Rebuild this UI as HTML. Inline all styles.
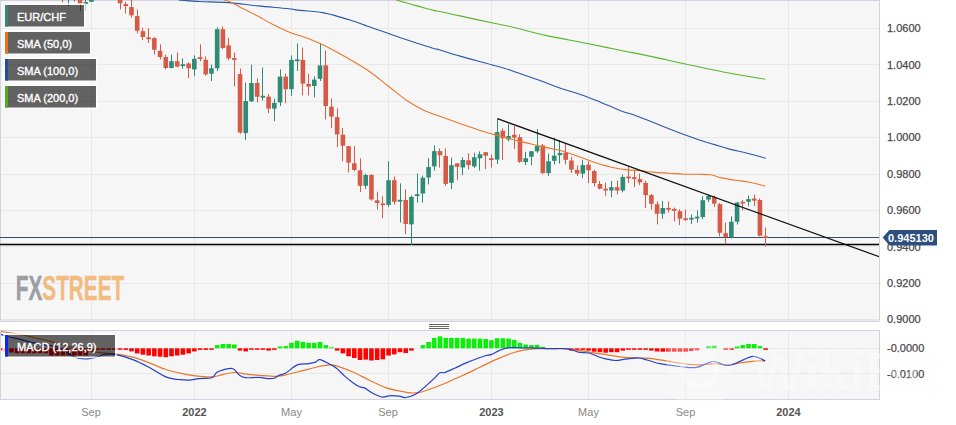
<!DOCTYPE html>
<html><head><meta charset="utf-8"><title>EUR/CHF chart</title>
<style>html,body{margin:0;padding:0;background:#fff;width:956px;height:425px;overflow:hidden}</style>
</head><body>
<svg width="956" height="425" viewBox="0 0 956 425" style="display:block">
<rect x="0" y="0" width="879.5" height="320" fill="#f6f6f7"/>
<rect x="0" y="330" width="879.5" height="70" fill="#f6f6f7"/>
<line x1="0" y1="28.5" x2="879.5" y2="28.5" stroke="#e8e8e9" stroke-width="1"/>
<line x1="0" y1="64.5" x2="879.5" y2="64.5" stroke="#e8e8e9" stroke-width="1"/>
<line x1="0" y1="101.5" x2="879.5" y2="101.5" stroke="#e8e8e9" stroke-width="1"/>
<line x1="0" y1="137.5" x2="879.5" y2="137.5" stroke="#e8e8e9" stroke-width="1"/>
<line x1="0" y1="174.5" x2="879.5" y2="174.5" stroke="#e8e8e9" stroke-width="1"/>
<line x1="0" y1="210.5" x2="879.5" y2="210.5" stroke="#e8e8e9" stroke-width="1"/>
<line x1="0" y1="246.5" x2="879.5" y2="246.5" stroke="#e8e8e9" stroke-width="1"/>
<line x1="0" y1="283.5" x2="879.5" y2="283.5" stroke="#e8e8e9" stroke-width="1"/>
<line x1="91.5" y1="0" x2="91.5" y2="320" stroke="#e8e8e9" stroke-width="1"/>
<line x1="91.5" y1="330" x2="91.5" y2="399" stroke="#e8e8e9" stroke-width="1"/>
<line x1="194.5" y1="0" x2="194.5" y2="320" stroke="#e8e8e9" stroke-width="1"/>
<line x1="194.5" y1="330" x2="194.5" y2="399" stroke="#e8e8e9" stroke-width="1"/>
<line x1="291.5" y1="0" x2="291.5" y2="320" stroke="#e8e8e9" stroke-width="1"/>
<line x1="291.5" y1="330" x2="291.5" y2="399" stroke="#e8e8e9" stroke-width="1"/>
<line x1="388.5" y1="0" x2="388.5" y2="320" stroke="#e8e8e9" stroke-width="1"/>
<line x1="388.5" y1="330" x2="388.5" y2="399" stroke="#e8e8e9" stroke-width="1"/>
<line x1="491.5" y1="0" x2="491.5" y2="320" stroke="#e8e8e9" stroke-width="1"/>
<line x1="491.5" y1="330" x2="491.5" y2="399" stroke="#e8e8e9" stroke-width="1"/>
<line x1="588.5" y1="0" x2="588.5" y2="320" stroke="#e8e8e9" stroke-width="1"/>
<line x1="588.5" y1="330" x2="588.5" y2="399" stroke="#e8e8e9" stroke-width="1"/>
<line x1="685.5" y1="0" x2="685.5" y2="320" stroke="#e8e8e9" stroke-width="1"/>
<line x1="685.5" y1="330" x2="685.5" y2="399" stroke="#e8e8e9" stroke-width="1"/>
<line x1="788.5" y1="0" x2="788.5" y2="320" stroke="#e8e8e9" stroke-width="1"/>
<line x1="788.5" y1="330" x2="788.5" y2="399" stroke="#e8e8e9" stroke-width="1"/>
<line x1="0" y1="348.5" x2="879.5" y2="348.5" stroke="#e8e8e9" stroke-width="1"/>
<line x1="0" y1="373.5" x2="879.5" y2="373.5" stroke="#e8e8e9" stroke-width="1"/>
<rect x="0.5" y="0.5" width="879.0" height="319.5" fill="none" stroke="#d2d2de" stroke-width="1"/>
<defs><clipPath id="cp"><rect x="0" y="0" width="879" height="320"/></clipPath><clipPath id="cm"><rect x="0" y="330" width="879" height="69"/></clipPath></defs>
<g clip-path="url(#cp)">
<line x1="0" y1="237.5" x2="879.5" y2="237.5" stroke="#34496a" stroke-width="1.1"/>
<line x1="0" y1="244.5" x2="879.5" y2="244.5" stroke="#000" stroke-width="1.3"/>
<rect x="62" y="-8.0" width="1" height="10.4" fill="#d65a45"/>
<rect x="60.64" y="-5.0" width="4.6" height="4.0" fill="#d65a45"/>
<rect x="68" y="-14.0" width="1" height="20.0" fill="#2f8a76"/>
<rect x="66.35" y="-12.0" width="4.6" height="8.0" fill="#2f8a76"/>
<rect x="74" y="-12.0" width="1" height="13.6" fill="#2f8a76"/>
<rect x="72.06" y="-10.0" width="4.6" height="6.0" fill="#2f8a76"/>
<rect x="80" y="-8.0" width="1" height="18.7" fill="#d65a45"/>
<rect x="77.77" y="-5.0" width="4.6" height="8.7" fill="#d65a45"/>
<rect x="85" y="-3.0" width="1" height="13.5" fill="#2f8a76"/>
<rect x="83.49" y="2.1" width="4.6" height="1.8" fill="#2f8a76"/>
<rect x="91" y="-6.0" width="1" height="8.2" fill="#2f8a76"/>
<rect x="89.20" y="-3.0" width="4.6" height="4.8" fill="#2f8a76"/>
<rect x="120" y="-5.0" width="1" height="14.4" fill="#d65a45"/>
<rect x="117.77" y="-3.0" width="4.6" height="6.3" fill="#d65a45"/>
<rect x="125" y="1.8" width="1" height="11.7" fill="#d65a45"/>
<rect x="123.48" y="4.1" width="4.6" height="2.0" fill="#d65a45"/>
<rect x="131" y="-1.0" width="1" height="18.6" fill="#d65a45"/>
<rect x="129.19" y="7.1" width="4.6" height="8.2" fill="#d65a45"/>
<rect x="137" y="9.4" width="1" height="24.1" fill="#d65a45"/>
<rect x="134.90" y="16.1" width="4.6" height="14.7" fill="#d65a45"/>
<rect x="142" y="27.6" width="1" height="12.4" fill="#d65a45"/>
<rect x="140.62" y="31.2" width="4.6" height="5.8" fill="#d65a45"/>
<rect x="148" y="28.2" width="1" height="14.8" fill="#d65a45"/>
<rect x="146.33" y="37.4" width="4.6" height="1.8" fill="#d65a45"/>
<rect x="154" y="37.2" width="1" height="17.4" fill="#d65a45"/>
<rect x="152.04" y="38.1" width="4.6" height="11.6" fill="#d65a45"/>
<rect x="160" y="44.3" width="1" height="15.2" fill="#d65a45"/>
<rect x="157.76" y="50.8" width="4.6" height="6.2" fill="#d65a45"/>
<rect x="165" y="54.6" width="1" height="14.8" fill="#d65a45"/>
<rect x="163.47" y="57.0" width="4.6" height="11.0" fill="#d65a45"/>
<rect x="171" y="54.6" width="1" height="13.7" fill="#2f8a76"/>
<rect x="169.18" y="61.2" width="4.6" height="6.8" fill="#2f8a76"/>
<rect x="177" y="52.5" width="1" height="14.8" fill="#d65a45"/>
<rect x="174.89" y="61.2" width="4.6" height="5.4" fill="#d65a45"/>
<rect x="182" y="58.4" width="1" height="10.3" fill="#2f8a76"/>
<rect x="180.61" y="64.3" width="4.6" height="1.8" fill="#2f8a76"/>
<rect x="188" y="62.4" width="1" height="15.8" fill="#d65a45"/>
<rect x="186.32" y="63.5" width="4.6" height="4.8" fill="#d65a45"/>
<rect x="194" y="55.3" width="1" height="20.9" fill="#2f8a76"/>
<rect x="192.03" y="58.8" width="4.6" height="10.6" fill="#2f8a76"/>
<rect x="200" y="44.3" width="1" height="16.9" fill="#d65a45"/>
<rect x="197.75" y="57.2" width="4.6" height="1.8" fill="#d65a45"/>
<rect x="205" y="56.4" width="1" height="19.4" fill="#d65a45"/>
<rect x="203.46" y="59.8" width="4.6" height="14.6" fill="#d65a45"/>
<rect x="211" y="64.5" width="1" height="16.5" fill="#2f8a76"/>
<rect x="209.17" y="68.3" width="4.6" height="5.4" fill="#2f8a76"/>
<rect x="217" y="27.3" width="1" height="43.8" fill="#2f8a76"/>
<rect x="214.89" y="29.2" width="4.6" height="39.1" fill="#2f8a76"/>
<rect x="222" y="26.4" width="1" height="22.6" fill="#d65a45"/>
<rect x="220.60" y="29.2" width="4.6" height="18.8" fill="#d65a45"/>
<rect x="228" y="37.7" width="1" height="22.6" fill="#d65a45"/>
<rect x="226.31" y="45.4" width="4.6" height="13.0" fill="#d65a45"/>
<rect x="234" y="52.5" width="1" height="33.9" fill="#d65a45"/>
<rect x="232.02" y="58.1" width="4.6" height="1.8" fill="#d65a45"/>
<rect x="240" y="68.5" width="1" height="65.3" fill="#d65a45"/>
<rect x="237.74" y="74.1" width="4.6" height="58.4" fill="#d65a45"/>
<rect x="245" y="82.6" width="1" height="57.4" fill="#2f8a76"/>
<rect x="243.45" y="101.0" width="4.6" height="32.1" fill="#2f8a76"/>
<rect x="251" y="64.7" width="1" height="37.1" fill="#2f8a76"/>
<rect x="249.16" y="83.0" width="4.6" height="18.4" fill="#2f8a76"/>
<rect x="257" y="78.5" width="1" height="23.9" fill="#d65a45"/>
<rect x="254.88" y="83.0" width="4.6" height="13.7" fill="#d65a45"/>
<rect x="262" y="67.5" width="1" height="33.0" fill="#2f8a76"/>
<rect x="260.59" y="95.8" width="4.6" height="1.8" fill="#2f8a76"/>
<rect x="268" y="93.9" width="1" height="19.2" fill="#d65a45"/>
<rect x="266.30" y="96.7" width="4.6" height="11.9" fill="#d65a45"/>
<rect x="274" y="98.6" width="1" height="22.6" fill="#2f8a76"/>
<rect x="272.02" y="102.9" width="4.6" height="5.7" fill="#2f8a76"/>
<rect x="280" y="69.4" width="1" height="36.7" fill="#2f8a76"/>
<rect x="277.73" y="76.6" width="4.6" height="25.8" fill="#2f8a76"/>
<rect x="285" y="73.6" width="1" height="29.7" fill="#d65a45"/>
<rect x="283.44" y="76.6" width="4.6" height="12.6" fill="#d65a45"/>
<rect x="291" y="55.4" width="1" height="40.4" fill="#2f8a76"/>
<rect x="289.16" y="59.9" width="4.6" height="29.3" fill="#2f8a76"/>
<rect x="297" y="43.4" width="1" height="27.5" fill="#2f8a76"/>
<rect x="294.87" y="59.4" width="4.6" height="1.8" fill="#2f8a76"/>
<rect x="302" y="47.6" width="1" height="47.8" fill="#d65a45"/>
<rect x="300.58" y="59.9" width="4.6" height="23.7" fill="#d65a45"/>
<rect x="308" y="73.6" width="1" height="21.8" fill="#d65a45"/>
<rect x="306.29" y="84.0" width="4.6" height="2.5" fill="#d65a45"/>
<rect x="314" y="76.4" width="1" height="20.9" fill="#2f8a76"/>
<rect x="312.01" y="79.6" width="4.6" height="6.4" fill="#2f8a76"/>
<rect x="320" y="43.8" width="1" height="37.2" fill="#2f8a76"/>
<rect x="317.72" y="65.4" width="4.6" height="13.4" fill="#2f8a76"/>
<rect x="325" y="50.5" width="1" height="69.0" fill="#d65a45"/>
<rect x="323.43" y="65.3" width="4.6" height="40.7" fill="#d65a45"/>
<rect x="331" y="98.5" width="1" height="29.6" fill="#d65a45"/>
<rect x="329.15" y="106.7" width="4.6" height="9.9" fill="#d65a45"/>
<rect x="337" y="108.3" width="1" height="38.7" fill="#d65a45"/>
<rect x="334.86" y="117.1" width="4.6" height="17.3" fill="#d65a45"/>
<rect x="342" y="128.1" width="1" height="33.1" fill="#d65a45"/>
<rect x="340.57" y="134.7" width="4.6" height="11.0" fill="#d65a45"/>
<rect x="348" y="145.9" width="1" height="26.5" fill="#d65a45"/>
<rect x="346.28" y="146.2" width="4.6" height="16.4" fill="#d65a45"/>
<rect x="354" y="146.2" width="1" height="25.1" fill="#d65a45"/>
<rect x="352.00" y="163.3" width="4.6" height="6.6" fill="#d65a45"/>
<rect x="360" y="158.3" width="1" height="33.7" fill="#d65a45"/>
<rect x="357.71" y="170.3" width="4.6" height="15.5" fill="#d65a45"/>
<rect x="365" y="173.6" width="1" height="15.4" fill="#2f8a76"/>
<rect x="363.42" y="175.0" width="4.6" height="10.8" fill="#2f8a76"/>
<rect x="371" y="174.0" width="1" height="26.5" fill="#d65a45"/>
<rect x="369.14" y="175.0" width="4.6" height="24.5" fill="#d65a45"/>
<rect x="377" y="191.7" width="1" height="17.8" fill="#d65a45"/>
<rect x="374.85" y="200.3" width="4.6" height="2.7" fill="#d65a45"/>
<rect x="382" y="196.3" width="1" height="22.0" fill="#d65a45"/>
<rect x="380.56" y="203.4" width="4.6" height="1.8" fill="#d65a45"/>
<rect x="388" y="161.2" width="1" height="46.0" fill="#2f8a76"/>
<rect x="386.28" y="180.2" width="4.6" height="24.7" fill="#2f8a76"/>
<rect x="394" y="176.4" width="1" height="28.2" fill="#d65a45"/>
<rect x="391.99" y="180.2" width="4.6" height="21.6" fill="#d65a45"/>
<rect x="400" y="183.4" width="1" height="39.1" fill="#2f8a76"/>
<rect x="397.70" y="199.8" width="4.6" height="1.8" fill="#2f8a76"/>
<rect x="405" y="189.4" width="1" height="44.8" fill="#d65a45"/>
<rect x="403.42" y="200.0" width="4.6" height="24.0" fill="#d65a45"/>
<rect x="411" y="195.4" width="1" height="49.5" fill="#2f8a76"/>
<rect x="409.13" y="196.9" width="4.6" height="27.5" fill="#2f8a76"/>
<rect x="417" y="173.6" width="1" height="29.0" fill="#2f8a76"/>
<rect x="414.84" y="194.2" width="4.6" height="1.8" fill="#2f8a76"/>
<rect x="422" y="175.5" width="1" height="27.1" fill="#2f8a76"/>
<rect x="420.55" y="177.8" width="4.6" height="15.7" fill="#2f8a76"/>
<rect x="428" y="158.3" width="1" height="26.1" fill="#2f8a76"/>
<rect x="426.27" y="167.1" width="4.6" height="10.4" fill="#2f8a76"/>
<rect x="434" y="145.3" width="1" height="25.3" fill="#2f8a76"/>
<rect x="431.98" y="151.1" width="4.6" height="15.3" fill="#2f8a76"/>
<rect x="439" y="148.4" width="1" height="19.1" fill="#d65a45"/>
<rect x="437.69" y="151.1" width="4.6" height="4.2" fill="#d65a45"/>
<rect x="445" y="148.4" width="1" height="37.5" fill="#d65a45"/>
<rect x="443.41" y="156.0" width="4.6" height="27.9" fill="#d65a45"/>
<rect x="451" y="157.6" width="1" height="31.4" fill="#2f8a76"/>
<rect x="449.12" y="165.2" width="4.6" height="17.6" fill="#2f8a76"/>
<rect x="457" y="163.0" width="1" height="17.2" fill="#d65a45"/>
<rect x="454.83" y="163.4" width="4.6" height="3.4" fill="#d65a45"/>
<rect x="462" y="157.3" width="1" height="17.9" fill="#2f8a76"/>
<rect x="460.55" y="159.9" width="4.6" height="7.6" fill="#2f8a76"/>
<rect x="468" y="153.3" width="1" height="16.2" fill="#d65a45"/>
<rect x="466.26" y="160.3" width="4.6" height="4.6" fill="#d65a45"/>
<rect x="474" y="152.7" width="1" height="15.3" fill="#2f8a76"/>
<rect x="471.97" y="157.3" width="4.6" height="9.1" fill="#2f8a76"/>
<rect x="479" y="151.4" width="1" height="19.2" fill="#2f8a76"/>
<rect x="477.68" y="154.2" width="4.6" height="4.1" fill="#2f8a76"/>
<rect x="485" y="152.0" width="1" height="17.0" fill="#d65a45"/>
<rect x="483.40" y="152.2" width="4.6" height="3.5" fill="#d65a45"/>
<rect x="491" y="154.5" width="1" height="13.0" fill="#d65a45"/>
<rect x="489.11" y="158.2" width="4.6" height="1.8" fill="#d65a45"/>
<rect x="497" y="118.8" width="1" height="45.2" fill="#2f8a76"/>
<rect x="494.82" y="132.0" width="4.6" height="27.6" fill="#2f8a76"/>
<rect x="502" y="128.4" width="1" height="31.6" fill="#d65a45"/>
<rect x="500.54" y="130.8" width="4.6" height="7.5" fill="#d65a45"/>
<rect x="508" y="124.1" width="1" height="17.3" fill="#2f8a76"/>
<rect x="506.25" y="136.0" width="4.6" height="3.4" fill="#2f8a76"/>
<rect x="514" y="126.1" width="1" height="22.9" fill="#d65a45"/>
<rect x="511.96" y="134.8" width="4.6" height="2.8" fill="#d65a45"/>
<rect x="519" y="134.5" width="1" height="28.3" fill="#d65a45"/>
<rect x="517.68" y="137.3" width="4.6" height="24.5" fill="#d65a45"/>
<rect x="525" y="151.7" width="1" height="13.4" fill="#2f8a76"/>
<rect x="523.39" y="158.2" width="4.6" height="3.9" fill="#2f8a76"/>
<rect x="531" y="151.0" width="1" height="14.1" fill="#2f8a76"/>
<rect x="529.10" y="151.3" width="4.6" height="5.4" fill="#2f8a76"/>
<rect x="537" y="129.1" width="1" height="23.8" fill="#2f8a76"/>
<rect x="534.81" y="146.0" width="4.6" height="5.3" fill="#2f8a76"/>
<rect x="542" y="144.0" width="1" height="30.3" fill="#d65a45"/>
<rect x="540.53" y="145.5" width="4.6" height="27.6" fill="#d65a45"/>
<rect x="548" y="153.6" width="1" height="22.4" fill="#2f8a76"/>
<rect x="546.24" y="161.3" width="4.6" height="11.8" fill="#2f8a76"/>
<rect x="554" y="137.6" width="1" height="26.8" fill="#2f8a76"/>
<rect x="551.95" y="155.6" width="4.6" height="5.2" fill="#2f8a76"/>
<rect x="559" y="139.9" width="1" height="23.7" fill="#2f8a76"/>
<rect x="557.67" y="152.9" width="4.6" height="2.3" fill="#2f8a76"/>
<rect x="565" y="144.0" width="1" height="20.4" fill="#d65a45"/>
<rect x="563.38" y="152.6" width="4.6" height="7.2" fill="#d65a45"/>
<rect x="571" y="156.9" width="1" height="16.2" fill="#d65a45"/>
<rect x="569.09" y="160.5" width="4.6" height="9.1" fill="#d65a45"/>
<rect x="577" y="165.4" width="1" height="10.6" fill="#d65a45"/>
<rect x="574.81" y="169.9" width="4.6" height="3.7" fill="#d65a45"/>
<rect x="582" y="159.7" width="1" height="18.4" fill="#2f8a76"/>
<rect x="580.52" y="165.1" width="4.6" height="8.5" fill="#2f8a76"/>
<rect x="588" y="161.2" width="1" height="21.8" fill="#d65a45"/>
<rect x="586.23" y="164.7" width="4.6" height="5.6" fill="#d65a45"/>
<rect x="594" y="169.6" width="1" height="16.9" fill="#d65a45"/>
<rect x="591.94" y="171.0" width="4.6" height="12.0" fill="#d65a45"/>
<rect x="599" y="180.9" width="1" height="8.5" fill="#d65a45"/>
<rect x="597.66" y="184.0" width="4.6" height="4.7" fill="#d65a45"/>
<rect x="605" y="182.6" width="1" height="13.1" fill="#d65a45"/>
<rect x="603.37" y="188.7" width="4.6" height="1.8" fill="#d65a45"/>
<rect x="611" y="180.9" width="1" height="16.2" fill="#2f8a76"/>
<rect x="609.08" y="187.2" width="4.6" height="3.3" fill="#2f8a76"/>
<rect x="617" y="180.6" width="1" height="13.7" fill="#d65a45"/>
<rect x="614.80" y="187.2" width="4.6" height="3.3" fill="#d65a45"/>
<rect x="622" y="174.6" width="1" height="17.6" fill="#2f8a76"/>
<rect x="620.51" y="177.0" width="4.6" height="13.5" fill="#2f8a76"/>
<rect x="628" y="166.8" width="1" height="16.2" fill="#d65a45"/>
<rect x="626.22" y="176.5" width="4.6" height="1.8" fill="#d65a45"/>
<rect x="634" y="169.6" width="1" height="17.6" fill="#d65a45"/>
<rect x="631.94" y="177.2" width="4.6" height="1.8" fill="#d65a45"/>
<rect x="639" y="173.6" width="1" height="11.5" fill="#d65a45"/>
<rect x="637.65" y="179.2" width="4.6" height="3.1" fill="#d65a45"/>
<rect x="645" y="180.8" width="1" height="27.2" fill="#d65a45"/>
<rect x="643.36" y="182.9" width="4.6" height="12.2" fill="#d65a45"/>
<rect x="651" y="194.0" width="1" height="15.6" fill="#d65a45"/>
<rect x="649.07" y="195.1" width="4.6" height="8.7" fill="#d65a45"/>
<rect x="657" y="201.4" width="1" height="23.0" fill="#d65a45"/>
<rect x="654.79" y="204.3" width="4.6" height="9.4" fill="#d65a45"/>
<rect x="662" y="201.0" width="1" height="17.7" fill="#2f8a76"/>
<rect x="660.50" y="208.0" width="4.6" height="5.7" fill="#2f8a76"/>
<rect x="668" y="201.4" width="1" height="11.2" fill="#d65a45"/>
<rect x="666.21" y="207.9" width="4.6" height="1.8" fill="#d65a45"/>
<rect x="674" y="207.6" width="1" height="13.9" fill="#d65a45"/>
<rect x="671.93" y="209.0" width="4.6" height="1.8" fill="#d65a45"/>
<rect x="679" y="209.3" width="1" height="15.9" fill="#d65a45"/>
<rect x="677.64" y="211.2" width="4.6" height="7.5" fill="#d65a45"/>
<rect x="685" y="209.6" width="1" height="11.2" fill="#d65a45"/>
<rect x="683.35" y="218.3" width="4.6" height="1.8" fill="#d65a45"/>
<rect x="691" y="214.5" width="1" height="9.6" fill="#2f8a76"/>
<rect x="689.07" y="217.8" width="4.6" height="1.8" fill="#2f8a76"/>
<rect x="697" y="210.4" width="1" height="12.4" fill="#2f8a76"/>
<rect x="694.78" y="216.7" width="4.6" height="1.8" fill="#2f8a76"/>
<rect x="702" y="196.3" width="1" height="23.0" fill="#2f8a76"/>
<rect x="700.49" y="200.2" width="4.6" height="16.8" fill="#2f8a76"/>
<rect x="708" y="194.8" width="1" height="7.2" fill="#2f8a76"/>
<rect x="706.20" y="195.9" width="4.6" height="3.7" fill="#2f8a76"/>
<rect x="714" y="195.6" width="1" height="11.5" fill="#d65a45"/>
<rect x="711.92" y="197.1" width="4.6" height="6.6" fill="#d65a45"/>
<rect x="719" y="203.0" width="1" height="33.3" fill="#d65a45"/>
<rect x="717.63" y="204.2" width="4.6" height="28.6" fill="#d65a45"/>
<rect x="725" y="222.5" width="1" height="21.5" fill="#d65a45"/>
<rect x="723.34" y="233.2" width="4.6" height="3.9" fill="#d65a45"/>
<rect x="731" y="216.4" width="1" height="21.9" fill="#2f8a76"/>
<rect x="729.06" y="221.8" width="4.6" height="15.6" fill="#2f8a76"/>
<rect x="737" y="201.8" width="1" height="22.7" fill="#2f8a76"/>
<rect x="734.77" y="202.6" width="4.6" height="19.2" fill="#2f8a76"/>
<rect x="742" y="200.0" width="1" height="10.3" fill="#d65a45"/>
<rect x="740.48" y="201.7" width="4.6" height="1.8" fill="#d65a45"/>
<rect x="748" y="195.4" width="1" height="11.0" fill="#2f8a76"/>
<rect x="746.20" y="199.1" width="4.6" height="2.7" fill="#2f8a76"/>
<rect x="754" y="194.5" width="1" height="11.6" fill="#d65a45"/>
<rect x="751.91" y="198.5" width="4.6" height="2.1" fill="#d65a45"/>
<rect x="759" y="198.5" width="1" height="37.8" fill="#d65a45"/>
<rect x="757.62" y="200.0" width="4.6" height="35.8" fill="#d65a45"/>
<rect x="765" y="227.6" width="1" height="18.7" fill="#d65a45"/>
<rect x="763.33" y="236.2" width="4.6" height="1.8" fill="#d65a45"/>
<path d="M396.2,0.0 C399.7,1.0 410.9,4.2 417.2,5.9 C423.5,7.6 430.1,9.5 433.9,10.4 C437.7,11.3 435.6,10.6 440.0,11.5 C444.4,12.4 451.4,14.0 460.0,15.9 C468.6,17.8 483.1,21.0 491.6,22.8 C500.1,24.6 501.9,24.6 511.1,26.7 C520.3,28.8 533.8,32.8 546.7,35.6 C559.6,38.4 576.8,41.3 588.6,43.7 C600.5,46.1 607.0,47.6 617.8,49.8 C628.6,52.0 642.1,54.5 653.4,56.9 C664.7,59.3 673.5,61.5 685.4,64.0 C697.2,66.5 711.2,69.7 724.5,72.2 C737.8,74.8 758.6,78.1 765.4,79.3" fill="none" stroke="#5bb52c" stroke-width="1.1" stroke-linejoin="round"/>
<path d="M178.8,0.0 C182.2,0.2 191.0,1.1 199.3,1.5 C207.6,1.9 218.8,1.9 228.6,2.6 C238.3,3.3 248.1,4.9 257.8,5.9 C267.6,6.9 280.1,7.8 287.1,8.5 C294.1,9.2 295.1,9.9 300.0,10.4 C304.9,10.9 312.5,11.2 316.7,11.7 C320.9,12.1 322.3,12.5 325.1,13.1 C327.9,13.7 329.3,13.9 333.5,15.1 C337.7,16.3 344.6,18.3 350.2,20.1 C355.8,21.9 361.3,23.9 366.9,25.9 C372.5,27.8 378.1,29.8 383.7,31.8 C389.3,33.8 394.8,35.8 400.4,37.7 C406.0,39.6 411.6,41.4 417.2,43.2 C422.8,45.0 430.1,47.4 433.9,48.5 C437.7,49.6 435.6,48.7 440.0,50.0 C444.4,51.3 451.4,53.6 460.0,56.1 C468.6,58.6 483.1,62.3 491.6,64.7 C500.1,67.1 503.5,67.9 511.1,70.4 C518.7,72.9 528.2,76.4 537.1,79.6 C546.0,82.8 557.0,87.0 564.5,89.6 C572.0,92.1 576.0,92.8 581.9,94.9 C587.8,97.0 593.6,99.4 600.0,102.0 C606.4,104.6 613.9,108.1 620.0,110.4 C626.1,112.7 631.1,113.9 636.7,115.9 C642.3,117.9 647.9,120.4 653.5,122.6 C659.1,124.8 664.9,127.2 670.2,129.3 C675.5,131.4 680.5,133.3 685.3,135.1 C690.0,136.8 694.0,138.2 698.7,139.8 C703.4,141.4 708.7,142.9 713.7,144.4 C718.7,145.9 723.2,147.4 728.8,148.9 C734.4,150.4 741.1,151.6 747.2,153.2 C753.3,154.8 762.5,157.4 765.6,158.2" fill="none" stroke="#2a58a8" stroke-width="1.1" stroke-linejoin="round"/>
<path d="M224.2,0.0 C225.4,0.4 228.3,1.1 231.5,2.6 C234.7,4.1 238.8,6.6 243.2,8.8 C247.6,11.1 252.9,13.5 257.8,16.1 C262.7,18.7 267.6,21.8 272.5,24.3 C277.4,26.8 282.5,29.3 287.1,31.2 C291.7,33.1 296.2,34.5 300.0,35.8 C303.8,37.1 306.6,37.9 310.0,39.2 C313.4,40.5 316.2,41.7 320.1,43.5 C324.0,45.3 328.5,47.5 333.5,50.2 C338.5,52.9 344.1,56.0 350.0,59.5 C355.9,63.0 362.8,66.8 369.1,71.2 C375.5,75.6 381.8,81.1 388.1,86.0 C394.5,90.9 401.2,96.7 407.2,100.8 C413.2,104.9 417.8,107.5 424.2,110.4 C430.6,113.3 438.2,115.6 445.3,118.2 C452.4,120.8 460.7,123.8 466.5,125.8 C472.3,127.8 475.0,128.8 480.0,130.4 C485.0,132.0 491.1,133.6 496.7,135.1 C502.3,136.6 507.9,138.2 513.5,139.7 C519.1,141.1 524.6,142.5 530.2,143.8 C535.8,145.1 541.3,146.3 546.9,147.6 C552.5,148.9 558.1,149.9 563.7,151.5 C569.3,153.1 574.8,155.2 580.4,157.2 C586.0,159.1 591.6,161.4 597.2,163.2 C602.8,164.9 608.9,166.6 613.9,167.7 C618.9,168.8 622.9,169.4 627.3,169.9 C631.6,170.4 635.5,170.2 640.0,170.6 C644.5,171.0 649.7,172.0 654.6,172.4 C659.5,172.8 664.4,172.9 669.3,173.2 C674.2,173.5 679.0,174.0 683.9,174.2 C688.8,174.4 694.2,174.2 698.6,174.3 C703.0,174.4 706.4,174.2 710.3,174.8 C714.2,175.4 717.9,177.0 722.0,177.9 C726.1,178.8 730.6,179.5 735.2,180.2 C739.8,180.9 744.8,181.3 749.8,182.3 C754.8,183.3 762.6,185.5 765.2,186.1" fill="none" stroke="#e8772a" stroke-width="1.1" stroke-linejoin="round"/>
<line x1="497.4" y1="118.7" x2="880" y2="257.0" stroke="#111" stroke-width="1.25"/>
</g>
<g clip-path="url(#cm)">
<rect x="-2.21" y="348.3" width="4.6" height="1.9" fill="#ff0000"/>
<rect x="3.50" y="348.3" width="4.6" height="3.2" fill="#ff0000"/>
<rect x="9.22" y="348.3" width="4.6" height="4.2" fill="#ff0000"/>
<rect x="14.93" y="348.3" width="4.6" height="4.9" fill="#ff0000"/>
<rect x="20.64" y="348.3" width="4.6" height="4.9" fill="#ff0000"/>
<rect x="26.36" y="348.3" width="4.6" height="4.9" fill="#ff0000"/>
<rect x="32.07" y="348.3" width="4.6" height="4.9" fill="#ff0000"/>
<rect x="37.78" y="348.3" width="4.6" height="4.9" fill="#ff0000"/>
<rect x="43.50" y="348.3" width="4.6" height="4.9" fill="#ff0000"/>
<rect x="49.21" y="348.3" width="4.6" height="7.2" fill="#ff0000"/>
<rect x="54.92" y="348.3" width="4.6" height="7.2" fill="#ff0000"/>
<rect x="60.64" y="348.3" width="4.6" height="7.2" fill="#ff0000"/>
<rect x="66.35" y="348.3" width="4.6" height="7.2" fill="#ff0000"/>
<rect x="72.06" y="348.3" width="4.6" height="7.2" fill="#ff0000"/>
<rect x="77.77" y="348.3" width="4.6" height="7.2" fill="#ff0000"/>
<rect x="83.49" y="348.3" width="4.6" height="7.2" fill="#ff0000"/>
<rect x="89.20" y="348.3" width="4.6" height="2.2" fill="#ff0000"/>
<rect x="94.91" y="348.3" width="4.6" height="1.7" fill="#ff0000"/>
<rect x="100.63" y="348.3" width="4.6" height="1.5" fill="#ff0000"/>
<rect x="106.34" y="348.3" width="4.6" height="1.5" fill="#ff0000"/>
<rect x="112.05" y="348.3" width="4.6" height="1.5" fill="#ff0000"/>
<rect x="117.77" y="348.3" width="4.6" height="1.5" fill="#ff0000"/>
<rect x="123.48" y="348.3" width="4.6" height="1.6" fill="#ff0000"/>
<rect x="129.19" y="348.3" width="4.6" height="3.1" fill="#ff0000"/>
<rect x="134.90" y="348.3" width="4.6" height="5.1" fill="#ff0000"/>
<rect x="140.62" y="348.3" width="4.6" height="6.4" fill="#ff0000"/>
<rect x="146.33" y="348.3" width="4.6" height="7.2" fill="#ff0000"/>
<rect x="152.04" y="348.3" width="4.6" height="8.0" fill="#ff0000"/>
<rect x="157.76" y="348.3" width="4.6" height="8.4" fill="#ff0000"/>
<rect x="163.47" y="348.3" width="4.6" height="8.9" fill="#ff0000"/>
<rect x="169.18" y="348.3" width="4.6" height="8.0" fill="#ff0000"/>
<rect x="174.89" y="348.3" width="4.6" height="7.2" fill="#ff0000"/>
<rect x="180.61" y="348.3" width="4.6" height="6.4" fill="#ff0000"/>
<rect x="186.32" y="348.3" width="4.6" height="5.1" fill="#ff0000"/>
<rect x="192.03" y="348.3" width="4.6" height="3.1" fill="#ff0000"/>
<rect x="197.75" y="348.3" width="4.6" height="1.6" fill="#ff0000"/>
<rect x="203.46" y="348.3" width="4.6" height="1.6" fill="#ff0000"/>
<rect x="209.17" y="348.3" width="4.6" height="1.5" fill="#ff0000"/>
<rect x="214.89" y="345.1" width="4.6" height="3.2" fill="#0aee0a"/>
<rect x="220.60" y="344.0" width="4.6" height="4.3" fill="#0aee0a"/>
<rect x="226.31" y="344.0" width="4.6" height="4.3" fill="#0aee0a"/>
<rect x="232.02" y="344.5" width="4.6" height="3.8" fill="#0aee0a"/>
<rect x="237.74" y="348.3" width="4.6" height="2.3" fill="#ff0000"/>
<rect x="243.45" y="348.3" width="4.6" height="3.1" fill="#ff0000"/>
<rect x="249.16" y="348.3" width="4.6" height="1.5" fill="#ff0000"/>
<rect x="254.88" y="348.3" width="4.6" height="1.5" fill="#ff0000"/>
<rect x="260.59" y="348.3" width="4.6" height="1.5" fill="#ff0000"/>
<rect x="266.30" y="348.3" width="4.6" height="2.3" fill="#ff0000"/>
<rect x="272.02" y="348.3" width="4.6" height="1.5" fill="#ff0000"/>
<rect x="277.73" y="346.5" width="4.6" height="1.8" fill="#0aee0a"/>
<rect x="283.44" y="346.1" width="4.6" height="2.2" fill="#0aee0a"/>
<rect x="289.16" y="342.8" width="4.6" height="5.5" fill="#0aee0a"/>
<rect x="294.87" y="340.7" width="4.6" height="7.6" fill="#0aee0a"/>
<rect x="300.58" y="341.9" width="4.6" height="6.4" fill="#0aee0a"/>
<rect x="306.29" y="342.8" width="4.6" height="5.5" fill="#0aee0a"/>
<rect x="312.01" y="342.8" width="4.6" height="5.5" fill="#0aee0a"/>
<rect x="317.72" y="341.9" width="4.6" height="6.4" fill="#0aee0a"/>
<rect x="323.43" y="345.1" width="4.6" height="3.2" fill="#0aee0a"/>
<rect x="329.15" y="347.3" width="4.6" height="1.0" fill="#0aee0a"/>
<rect x="334.86" y="348.3" width="4.6" height="2.3" fill="#ff0000"/>
<rect x="340.57" y="348.3" width="4.6" height="5.1" fill="#ff0000"/>
<rect x="346.28" y="348.3" width="4.6" height="8.0" fill="#ff0000"/>
<rect x="352.00" y="348.3" width="4.6" height="9.7" fill="#ff0000"/>
<rect x="357.71" y="348.3" width="4.6" height="11.7" fill="#ff0000"/>
<rect x="363.42" y="348.3" width="4.6" height="11.3" fill="#ff0000"/>
<rect x="369.14" y="348.3" width="4.6" height="12.2" fill="#ff0000"/>
<rect x="374.85" y="348.3" width="4.6" height="11.7" fill="#ff0000"/>
<rect x="380.56" y="348.3" width="4.6" height="11.0" fill="#ff0000"/>
<rect x="386.28" y="348.3" width="4.6" height="7.2" fill="#ff0000"/>
<rect x="391.99" y="348.3" width="4.6" height="6.1" fill="#ff0000"/>
<rect x="397.70" y="348.3" width="4.6" height="3.9" fill="#ff0000"/>
<rect x="403.42" y="348.3" width="4.6" height="4.7" fill="#ff0000"/>
<rect x="409.13" y="348.3" width="4.6" height="2.3" fill="#ff0000"/>
<rect x="420.55" y="345.1" width="4.6" height="3.2" fill="#0aee0a"/>
<rect x="426.27" y="342.0" width="4.6" height="6.3" fill="#0aee0a"/>
<rect x="431.98" y="338.0" width="4.6" height="10.3" fill="#0aee0a"/>
<rect x="437.69" y="336.3" width="4.6" height="12.0" fill="#0aee0a"/>
<rect x="443.41" y="337.9" width="4.6" height="10.4" fill="#0aee0a"/>
<rect x="449.12" y="337.9" width="4.6" height="10.4" fill="#0aee0a"/>
<rect x="454.83" y="337.9" width="4.6" height="10.4" fill="#0aee0a"/>
<rect x="460.55" y="337.9" width="4.6" height="10.4" fill="#0aee0a"/>
<rect x="466.26" y="338.6" width="4.6" height="9.7" fill="#0aee0a"/>
<rect x="471.97" y="338.6" width="4.6" height="9.7" fill="#0aee0a"/>
<rect x="477.68" y="338.6" width="4.6" height="9.7" fill="#0aee0a"/>
<rect x="483.40" y="339.0" width="4.6" height="9.3" fill="#0aee0a"/>
<rect x="489.11" y="340.2" width="4.6" height="8.1" fill="#0aee0a"/>
<rect x="494.82" y="338.2" width="4.6" height="10.1" fill="#0aee0a"/>
<rect x="500.54" y="338.2" width="4.6" height="10.1" fill="#0aee0a"/>
<rect x="506.25" y="338.6" width="4.6" height="9.7" fill="#0aee0a"/>
<rect x="511.96" y="339.9" width="4.6" height="8.4" fill="#0aee0a"/>
<rect x="517.68" y="342.8" width="4.6" height="5.5" fill="#0aee0a"/>
<rect x="523.39" y="344.5" width="4.6" height="3.8" fill="#0aee0a"/>
<rect x="529.10" y="345.1" width="4.6" height="3.2" fill="#0aee0a"/>
<rect x="534.81" y="344.8" width="4.6" height="3.5" fill="#0aee0a"/>
<rect x="540.53" y="346.8" width="4.6" height="1.5" fill="#0aee0a"/>
<rect x="569.09" y="348.3" width="4.6" height="2.3" fill="#ff0000"/>
<rect x="574.81" y="348.3" width="4.6" height="2.3" fill="#ff0000"/>
<rect x="580.52" y="348.3" width="4.6" height="1.6" fill="#ff0000"/>
<rect x="586.23" y="348.3" width="4.6" height="2.3" fill="#ff0000"/>
<rect x="591.94" y="348.3" width="4.6" height="3.4" fill="#ff0000"/>
<rect x="597.66" y="348.3" width="4.6" height="3.9" fill="#ff0000"/>
<rect x="603.37" y="348.3" width="4.6" height="4.4" fill="#ff0000"/>
<rect x="609.08" y="348.3" width="4.6" height="3.9" fill="#ff0000"/>
<rect x="614.80" y="348.3" width="4.6" height="3.9" fill="#ff0000"/>
<rect x="620.51" y="348.3" width="4.6" height="2.3" fill="#ff0000"/>
<rect x="626.22" y="348.3" width="4.6" height="1.5" fill="#ff0000"/>
<rect x="631.94" y="348.3" width="4.6" height="1.5" fill="#ff0000"/>
<rect x="637.65" y="348.3" width="4.6" height="1.5" fill="#ff0000"/>
<rect x="643.36" y="348.3" width="4.6" height="1.5" fill="#ff0000"/>
<rect x="649.07" y="348.3" width="4.6" height="2.3" fill="#ff0000"/>
<rect x="654.79" y="348.3" width="4.6" height="3.2" fill="#ff0000"/>
<rect x="660.50" y="348.3" width="4.6" height="3.4" fill="#ff0000"/>
<rect x="666.21" y="348.3" width="4.6" height="3.4" fill="#ff0000"/>
<rect x="671.93" y="348.3" width="4.6" height="3.4" fill="#ff0000"/>
<rect x="677.64" y="348.3" width="4.6" height="3.4" fill="#ff0000"/>
<rect x="683.35" y="348.3" width="4.6" height="3.4" fill="#ff0000"/>
<rect x="689.07" y="348.3" width="4.6" height="2.8" fill="#ff0000"/>
<rect x="694.78" y="348.3" width="4.6" height="2.3" fill="#ff0000"/>
<rect x="706.20" y="346.1" width="4.6" height="2.2" fill="#0aee0a"/>
<rect x="711.92" y="345.6" width="4.6" height="2.7" fill="#0aee0a"/>
<rect x="723.34" y="348.3" width="4.6" height="1.5" fill="#ff0000"/>
<rect x="729.06" y="348.3" width="4.6" height="1.5" fill="#ff0000"/>
<rect x="734.77" y="346.5" width="4.6" height="1.8" fill="#0aee0a"/>
<rect x="740.48" y="345.1" width="4.6" height="3.2" fill="#0aee0a"/>
<rect x="746.20" y="344.0" width="4.6" height="4.3" fill="#0aee0a"/>
<rect x="751.91" y="344.0" width="4.6" height="4.3" fill="#0aee0a"/>
<rect x="757.62" y="346.1" width="4.6" height="2.2" fill="#0aee0a"/>
<rect x="763.33" y="348.3" width="4.6" height="1.5" fill="#ff0000"/>
<path d="M0.0,331.3 C4.2,332.0 16.7,333.9 25.0,335.5 C33.3,337.1 44.5,339.9 50.0,341.2 C55.5,342.5 53.3,342.1 58.2,343.5 C63.1,344.9 72.6,347.9 79.4,349.4 C86.2,350.9 92.9,351.6 98.8,352.4 C104.7,353.1 109.1,353.1 114.8,353.9 C120.5,354.7 127.1,355.7 132.9,357.2 C138.7,358.7 143.9,360.8 149.4,362.9 C154.9,364.9 160.3,367.7 165.8,369.5 C171.3,371.3 177.4,372.6 182.3,373.6 C187.2,374.7 190.6,375.2 195.5,375.8 C200.4,376.4 207.3,377.1 211.9,376.9 C216.5,376.7 219.4,375.1 223.2,374.4 C227.0,373.7 230.9,372.6 234.7,372.5 C238.5,372.4 242.1,373.6 246.2,374.1 C250.3,374.6 254.5,374.9 259.4,375.3 C264.3,375.7 271.4,376.5 275.8,376.4 C280.2,376.3 281.6,375.7 285.7,374.8 C289.8,373.9 295.3,372.5 300.5,371.2 C305.7,369.9 312.1,368.1 317.0,367.0 C321.9,365.9 326.6,365.1 329.9,364.9 C333.1,364.7 332.7,364.7 336.5,365.9 C340.3,367.1 347.4,369.6 352.9,372.0 C358.4,374.4 363.9,377.6 369.4,380.2 C374.9,382.8 380.9,385.8 385.8,387.6 C390.7,389.4 394.9,390.0 399.0,390.9 C403.1,391.8 407.2,392.6 410.5,392.9 C413.8,393.2 416.1,393.0 418.8,392.6 C421.6,392.2 422.4,392.0 427.0,390.3 C431.6,388.6 440.5,385.2 446.5,382.7 C452.5,380.2 457.4,377.8 462.9,375.3 C468.4,372.8 473.9,370.1 479.4,367.5 C484.9,364.9 490.3,362.0 495.8,359.6 C501.3,357.2 507.6,354.6 512.3,353.0 C517.0,351.4 519.7,350.8 523.8,350.1 C527.9,349.4 532.6,348.8 537.0,348.6 C541.4,348.4 544.8,348.6 550.0,348.7 C555.2,348.8 561.4,348.3 568.0,348.9 C574.6,349.5 583.1,351.2 589.4,352.2 C595.7,353.2 600.3,353.9 605.8,354.7 C611.3,355.5 616.8,356.6 622.3,357.2 C627.8,357.8 634.2,357.8 638.8,358.0 C643.4,358.2 645.4,357.8 650.0,358.3 C654.6,358.8 661.0,360.0 666.5,360.9 C672.0,361.8 677.4,363.0 682.9,363.7 C688.4,364.4 693.9,364.9 699.4,364.9 C704.9,364.9 711.1,363.7 715.8,363.7 C720.5,363.7 723.3,365.0 727.4,364.9 C731.5,364.8 735.6,363.6 740.5,362.9 C745.4,362.2 752.9,361.2 757.0,360.9 C761.1,360.6 763.8,360.9 765.2,360.9" fill="none" stroke="#e8772a" stroke-width="1.2" stroke-linejoin="round"/>
<path d="M0.0,333.6 C0.8,334.0 1.7,335.1 5.0,336.0 C8.3,336.9 15.8,338.3 20.0,339.3 C24.2,340.3 25.8,341.2 30.0,342.1 C34.2,343.1 40.0,344.1 45.0,345.0 C50.0,345.9 55.2,345.9 60.0,347.8 C64.8,349.7 69.3,354.8 73.5,356.6 C77.7,358.5 81.1,358.9 85.3,358.9 C89.5,358.9 95.5,357.4 98.6,356.6 C101.7,355.8 101.3,354.7 104.0,354.3 C106.7,353.9 110.0,353.5 114.8,354.4 C119.6,355.3 127.1,357.4 132.9,359.6 C138.7,361.8 143.9,364.6 149.4,367.5 C154.9,370.4 161.1,374.9 165.8,376.9 C170.5,378.9 173.6,378.8 177.4,379.4 C181.2,379.9 185.3,380.3 188.9,380.2 C192.5,380.1 195.0,379.0 198.8,378.6 C202.6,378.2 208.9,378.7 211.9,377.7 C214.9,376.7 214.7,373.8 216.6,372.5 C218.5,371.2 220.5,370.4 223.2,369.8 C225.9,369.2 230.3,367.8 233.0,368.7 C235.7,369.6 237.5,373.8 239.6,375.3 C241.7,376.8 242.1,377.4 245.4,377.7 C248.7,378.0 255.7,377.2 259.4,377.4 C263.1,377.5 265.1,378.5 267.6,378.6 C270.1,378.7 272.3,378.8 274.2,378.2 C276.1,377.6 277.2,376.1 279.1,375.3 C281.0,374.5 282.7,374.8 285.7,373.1 C288.7,371.4 293.3,366.5 297.2,364.9 C301.1,363.3 305.8,364.2 308.8,363.7 C311.8,363.2 313.5,362.8 315.4,362.1 C317.3,361.4 317.6,359.2 320.0,359.6 C322.4,360.0 327.1,362.8 329.9,364.2 C332.6,365.6 334.0,366.2 336.5,368.2 C339.0,370.2 342.0,373.7 344.7,376.1 C347.4,378.5 350.4,380.9 352.9,382.7 C355.4,384.5 357.6,385.9 359.5,386.8 C361.4,387.7 362.5,387.0 364.4,387.9 C366.3,388.8 368.8,390.9 371.0,392.2 C373.2,393.5 375.7,394.7 377.6,395.5 C379.5,396.3 380.7,397.1 382.6,397.2 C384.5,397.2 386.4,396.0 389.1,395.8 C391.8,395.6 396.2,395.9 399.0,396.2 C401.8,396.5 402.9,397.8 405.6,397.5 C408.4,397.2 412.8,395.6 415.5,394.2 C418.2,392.8 419.7,391.3 422.1,389.3 C424.5,387.3 427.9,384.2 430.0,382.3 C432.1,380.4 433.2,379.3 434.9,377.7 C436.5,376.1 438.2,373.7 439.9,372.8 C441.5,371.9 442.3,373.3 444.8,372.5 C447.3,371.7 451.1,369.8 454.7,368.2 C458.3,366.6 462.1,364.6 466.2,362.9 C470.3,361.1 476.1,358.9 479.4,357.7 C482.7,356.5 483.9,356.1 486.0,355.5 C488.1,354.9 489.5,355.2 491.7,354.4 C493.9,353.6 496.5,351.7 499.1,350.6 C501.7,349.5 503.8,348.3 507.4,347.8 C511.0,347.3 515.6,347.8 520.5,347.8 C525.4,347.9 532.1,348.0 537.0,348.1 C541.9,348.2 544.8,348.5 550.0,348.6 C555.2,348.7 563.2,348.2 568.0,348.8 C572.8,349.4 575.2,351.5 578.6,352.2 C582.0,352.9 585.0,352.2 588.6,353.0 C592.2,353.8 597.1,356.2 600.0,357.2 C602.9,358.2 603.2,358.2 605.8,358.8 C608.4,359.4 612.1,360.5 615.7,360.5 C619.3,360.5 623.4,359.2 627.2,358.8 C631.1,358.4 635.5,357.8 638.8,358.0 C642.1,358.2 643.5,359.1 647.0,360.0 C650.5,360.9 655.8,362.8 659.9,363.7 C664.0,364.6 667.6,364.8 671.4,365.4 C675.2,365.9 678.8,366.6 682.9,367.0 C687.0,367.4 692.2,368.1 696.1,367.5 C700.0,366.9 703.1,364.7 706.0,363.7 C708.9,362.7 711.2,361.4 713.4,361.3 C715.6,361.2 717.0,362.2 719.1,362.9 C721.2,363.6 723.5,365.1 725.7,365.4 C727.9,365.7 729.3,365.6 732.3,364.6 C735.3,363.6 740.2,361.0 743.8,359.6 C747.4,358.2 750.1,356.1 753.7,356.3 C757.3,356.5 763.3,360.1 765.2,360.9" fill="none" stroke="#2340c8" stroke-width="1.2" stroke-linejoin="round"/>
</g>
<line x1="0" y1="321.5" x2="879.5" y2="321.5" stroke="#d2d2de" stroke-width="1"/>
<rect x="0.5" y="330.5" width="879.0" height="69" fill="none" stroke="#d2d2de" stroke-width="1"/>
<line x1="429" y1="324.5" x2="449" y2="324.5" stroke="#666" stroke-width="1"/>
<line x1="429" y1="326.5" x2="449" y2="326.5" stroke="#666" stroke-width="1"/>
<line x1="429" y1="328.5" x2="449" y2="328.5" stroke="#666" stroke-width="1"/>
<rect x="4.1" y="4.1" width="80.8" height="23.3" fill="none" stroke="#fff" stroke-opacity="0.75" stroke-width="1.8"/>
<rect x="5" y="5" width="79" height="21.5" fill="#000" fill-opacity="0.6"/>
<rect x="5" y="5" width="3" height="21.5" fill="#2f8a76"/>
<text x="17" y="20.75" font-family="&quot;Liberation Sans&quot;, Arial, sans-serif" font-size="11" fill="#fff" stroke="#fff" stroke-width="0.35">EUR/CHF</text>
<rect x="4.1" y="31.1" width="86.8" height="23.3" fill="none" stroke="#fff" stroke-opacity="0.75" stroke-width="1.8"/>
<rect x="5" y="32" width="85" height="21.5" fill="#000" fill-opacity="0.6"/>
<rect x="5" y="32" width="3" height="21.5" fill="#e8731a"/>
<text x="17" y="47.75" font-family="&quot;Liberation Sans&quot;, Arial, sans-serif" font-size="11" fill="#fff" stroke="#fff" stroke-width="0.35">SMA (50,0)</text>
<rect x="4.1" y="58.1" width="92.8" height="23.3" fill="none" stroke="#fff" stroke-opacity="0.75" stroke-width="1.8"/>
<rect x="5" y="59" width="91" height="21.5" fill="#000" fill-opacity="0.6"/>
<rect x="5" y="59" width="3" height="21.5" fill="#1f4fa0"/>
<text x="17" y="74.75" font-family="&quot;Liberation Sans&quot;, Arial, sans-serif" font-size="11" fill="#fff" stroke="#fff" stroke-width="0.35">SMA (100,0)</text>
<rect x="4.1" y="85.1" width="92.8" height="23.3" fill="none" stroke="#fff" stroke-opacity="0.75" stroke-width="1.8"/>
<rect x="5" y="86" width="91" height="21.5" fill="#000" fill-opacity="0.6"/>
<rect x="5" y="86" width="3" height="21.5" fill="#4cb01a"/>
<text x="17" y="101.75" font-family="&quot;Liberation Sans&quot;, Arial, sans-serif" font-size="11" fill="#fff" stroke="#fff" stroke-width="0.35">SMA (200,0)</text>
<rect x="4.1" y="334.1" width="111.8" height="23.3" fill="none" stroke="#fff" stroke-opacity="0.75" stroke-width="1.8"/>
<rect x="5" y="335" width="110" height="21.5" fill="#000" fill-opacity="0.6"/>
<rect x="5" y="335" width="3" height="21.5" fill="#0a28f0"/>
<text x="17" y="350.75" font-family="&quot;Liberation Sans&quot;, Arial, sans-serif" font-size="11" fill="#fff" stroke="#fff" stroke-width="0.35">MACD (12,26,9)</text>
<text x="15.8" y="300.4" font-family="&quot;Liberation Sans&quot;, Arial, sans-serif" font-weight="bold" font-size="36" stroke-width="0.5" transform="translate(15.8 0) scale(0.58 1.0) translate(-15.8 0)" textLength="187" lengthAdjust="spacingAndGlyphs"><tspan fill="#9d9da5" stroke="#9d9da5">FX</tspan><tspan fill="#f1bc82" stroke="#f1bc82">STREET</tspan></text>
<text x="887" y="32" font-family="&quot;Liberation Sans&quot;, Arial, sans-serif" font-size="11" fill="#4a4a4a" stroke="#4a4a4a" stroke-width="0.25">1.0600</text>
<text x="887" y="69" font-family="&quot;Liberation Sans&quot;, Arial, sans-serif" font-size="11" fill="#4a4a4a" stroke="#4a4a4a" stroke-width="0.25">1.0400</text>
<text x="887" y="105" font-family="&quot;Liberation Sans&quot;, Arial, sans-serif" font-size="11" fill="#4a4a4a" stroke="#4a4a4a" stroke-width="0.25">1.0200</text>
<text x="887" y="141" font-family="&quot;Liberation Sans&quot;, Arial, sans-serif" font-size="11" fill="#4a4a4a" stroke="#4a4a4a" stroke-width="0.25">1.0000</text>
<text x="887" y="178" font-family="&quot;Liberation Sans&quot;, Arial, sans-serif" font-size="11" fill="#4a4a4a" stroke="#4a4a4a" stroke-width="0.25">0.9800</text>
<text x="887" y="214" font-family="&quot;Liberation Sans&quot;, Arial, sans-serif" font-size="11" fill="#4a4a4a" stroke="#4a4a4a" stroke-width="0.25">0.9600</text>
<text x="887" y="250.5" font-family="&quot;Liberation Sans&quot;, Arial, sans-serif" font-size="11" fill="#4a4a4a" stroke="#4a4a4a" stroke-width="0.25">0.9400</text>
<text x="887" y="287" font-family="&quot;Liberation Sans&quot;, Arial, sans-serif" font-size="11" fill="#4a4a4a" stroke="#4a4a4a" stroke-width="0.25">0.9200</text>
<text x="887" y="323" font-family="&quot;Liberation Sans&quot;, Arial, sans-serif" font-size="11" fill="#4a4a4a" stroke="#4a4a4a" stroke-width="0.25">0.9000</text>
<text x="887" y="352" font-family="&quot;Liberation Sans&quot;, Arial, sans-serif" font-size="11" fill="#4a4a4a" stroke="#4a4a4a" stroke-width="0.25">-0.0000</text>
<text x="887" y="378" font-family="&quot;Liberation Sans&quot;, Arial, sans-serif" font-size="11" fill="#4a4a4a" stroke="#4a4a4a" stroke-width="0.25">-0.0100</text>
<path d="M882.7 237.6 L889.4 230 L937 230 L937 245.4 L889.4 245.4 Z" fill="#2c4f7e"/>
<text x="888" y="241.8" font-family="&quot;Liberation Sans&quot;, Arial, sans-serif" font-size="11" font-weight="bold" fill="#fff">0.945130</text>
<text x="91" y="416.3" text-anchor="middle" font-family="&quot;Liberation Sans&quot;, Arial, sans-serif" font-size="11" fill="#888">Sep</text>
<text x="194.5" y="416.3" text-anchor="middle" font-family="&quot;Liberation Sans&quot;, Arial, sans-serif" font-size="11" font-weight="bold" fill="#555">2022</text>
<text x="291.5" y="416.3" text-anchor="middle" font-family="&quot;Liberation Sans&quot;, Arial, sans-serif" font-size="11" fill="#888">May</text>
<text x="388" y="416.3" text-anchor="middle" font-family="&quot;Liberation Sans&quot;, Arial, sans-serif" font-size="11" fill="#888">Sep</text>
<text x="491.5" y="416.3" text-anchor="middle" font-family="&quot;Liberation Sans&quot;, Arial, sans-serif" font-size="11" font-weight="bold" fill="#555">2023</text>
<text x="588.5" y="416.3" text-anchor="middle" font-family="&quot;Liberation Sans&quot;, Arial, sans-serif" font-size="11" fill="#888">May</text>
<text x="685.5" y="416.3" text-anchor="middle" font-family="&quot;Liberation Sans&quot;, Arial, sans-serif" font-size="11" fill="#888">Sep</text>
<text x="788.5" y="416.3" text-anchor="middle" font-family="&quot;Liberation Sans&quot;, Arial, sans-serif" font-size="11" font-weight="bold" fill="#555">2024</text>
<defs><filter id="wm" x="-10%" y="-10%" width="120%" height="120%"><feDropShadow dx="0" dy="0.5" stdDeviation="1.2" flood-color="#000" flood-opacity="0.06"/></filter></defs>
<g filter="url(#wm)">
<rect x="666.5" y="337.5" width="66" height="64" rx="17" fill="#fff" fill-opacity="0.3"/>
<circle cx="699.5" cy="369.5" r="17" fill="none" stroke="#fff" stroke-opacity="0.35" stroke-width="6"/>
<text x="752" y="391" font-family="&quot;Liberation Sans&quot;, Arial, sans-serif" font-weight="bold" font-size="55" fill="#fff" fill-opacity="0.35" textLength="187" lengthAdjust="spacingAndGlyphs">WikiBit</text>
</g>
</svg>
</body></html>
